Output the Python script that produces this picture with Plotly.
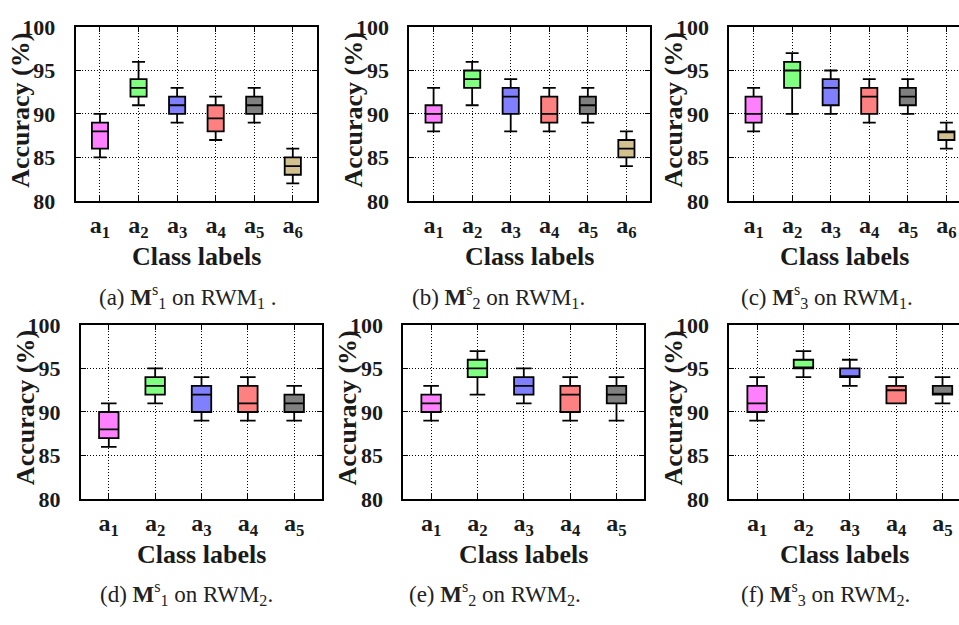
import plotly.graph_objects as go

# ---- data: five-number summaries of accuracy (%) per class label ----
labels6 = ["a<sub>1</sub>", "a<sub>2</sub>", "a<sub>3</sub>", "a<sub>4</sub>", "a<sub>5</sub>", "a<sub>6</sub>"]
labels5 = labels6[:5]

colors = ["#FF80FF", "#80FF80", "#8080FF", "#FF8080", "#808080", "#D2C08F"]

# (a) M1 on RWM1
a_lo = [85, 91, 89, 87, 89, 82]
a_q1 = [86, 92, 90, 88, 90, 83]
a_md = [88, 93, 91, 89.5, 91, 84]
a_q3 = [89, 94, 92, 91, 92, 85]
a_hi = [90, 96, 93, 92, 93, 86]

# (b) M2 on RWM1
b_lo = [88, 91, 88, 88, 89, 84]
b_q1 = [89, 93, 90, 89, 90, 85]
b_md = [90, 94, 92, 90, 91, 86]
b_q3 = [91, 95, 93, 92, 92, 87]
b_hi = [93, 96, 94, 93, 93, 88]

# (c) M3 on RWM1
c_lo = [88, 90, 90, 89, 90, 86]
c_q1 = [89, 93, 91, 90, 91, 87]
c_md = [90, 95, 93, 92, 92, 88]
c_q3 = [92, 96, 94, 93, 93, 88]
c_hi = [93, 97, 95, 94, 94, 89]

# (d) M1 on RWM2
d_lo = [86, 91, 89, 89, 89]
d_q1 = [87, 92, 90, 90, 90]
d_md = [88, 93, 92, 91, 91]
d_q3 = [90, 94, 93, 93, 92]
d_hi = [91, 95, 94, 94, 93]

# (e) M2 on RWM2
e_lo = [89, 92, 91, 89, 89]
e_q1 = [90, 94, 92, 90, 91]
e_md = [91, 95, 93, 92, 92]
e_q3 = [92, 96, 94, 93, 93]
e_hi = [93, 97, 95, 94, 94]

# (f) M3 on RWM2
f_lo = [89, 94, 93, 91, 91]
f_q1 = [90, 95, 94, 91, 92]
f_md = [91, 95, 94, 92.5, 92]
f_q3 = [93, 96, 95, 93, 93]
f_hi = [94, 97, 96, 94, 94]

captions = [
    "(a) <b>M</b><sup>s</sup><sub>1</sub> on RWM<sub>1</sub> .",
    "(b) <b>M</b><sup>s</sup><sub>2</sub> on RWM<sub>1</sub>.",
    "(c) <b>M</b><sup>s</sup><sub>3</sub> on RWM<sub>1</sub>.",
    "(d) <b>M</b><sup>s</sup><sub>1</sub> on RWM<sub>2</sub>.",
    "(e) <b>M</b><sup>s</sup><sub>2</sub> on RWM<sub>2</sub>.",
    "(f) <b>M</b><sup>s</sup><sub>3</sub> on RWM<sub>2</sub>.",
]

W, H = 959, 625
SERIF = "Liberation Serif"
INK = "#1a1a1a"

# panel geometry in pixels: (left, right, top, bottom, x-range)
panels = [
    (75.7, 316.7, 15.7, 196.7, [0.37, 6.62]),
    (409.3, 650.3, 15.7, 196.7, [0.37, 6.62]),
    (729.3, 959.0, 15.7, 196.7, [0.37, 0.37 + (959.0 - 729.3) / 38.56]),
    (81.0, 322.0, 326.0, 507.3, [0.4, 5.6]),
    (403.3, 644.3, 326.0, 507.3, [0.4, 5.6]),
    (729.3, 959.0, 326.0, 507.3, [0.4, 0.4 + (959.0 - 729.3) / 46.35]),
]
caption_pos = [(188, 296), (498, 296), (827, 296), (186, 606), (495, 606), (825, 606)]

data = [
    (a_lo, a_q1, a_md, a_q3, a_hi, labels6),
    (b_lo, b_q1, b_md, b_q3, b_hi, labels6),
    (c_lo, c_q1, c_md, c_q3, c_hi, labels6),
    (d_lo, d_q1, d_md, d_q3, d_hi, labels5),
    (e_lo, e_q1, e_md, e_q3, e_hi, labels5),
    (f_lo, f_q1, f_md, f_q3, f_hi, labels5),
]

fig = go.Figure()
layout = dict(
    width=W, height=H,
    margin=dict(l=0, r=0, t=0, b=0),
    paper_bgcolor="white", plot_bgcolor="white",
    showlegend=False, boxmode="overlay",
    annotations=[],
)

for k, ((lo, q1, md, q3, hi, labs), (L, R, T, B, xr)) in enumerate(zip(data, panels)):
    sfx = "" if k == 0 else str(k + 1)
    xa, ya = "x" + sfx, "y" + sfx
    for i in range(len(labs)):
        fig.add_trace(go.Box(
            x=[i + 1], q1=[q1[i]], median=[md[i]], q3=[q3[i]],
            lowerfence=[lo[i]], upperfence=[hi[i]],
            width=0.42, whiskerwidth=0.8,
            fillcolor=colors[i], line=dict(color="black", width=1.8),
            xaxis=xa, yaxis=ya, hoverinfo="skip",
        ))
    cut = R >= W - 0.5
    layout["xaxis" + sfx] = dict(
        domain=[L / W, R / W], anchor=ya, range=xr,
        tickvals=list(range(1, len(labs) + 1)),
        ticktext=labs,
        tickfont=dict(family=SERIF, size=24, color=INK, weight="bold"),
        ticks="inside", ticklen=5, tickcolor="black", tickwidth=1.2,
        showline=True, linecolor="black", linewidth=2, mirror="allticks",
        showgrid=True, gridcolor="black", griddash="1px,2px", gridwidth=1,
        zeroline=False, fixedrange=True, ticklabelstandoff=1,
    )
    layout["yaxis" + sfx] = dict(
        domain=[1 - B / H, 1 - T / H], anchor=xa, range=[80, 100],
        tickvals=[80, 85, 90, 95, 100],
        tickfont=dict(family=SERIF, size=22, color=INK, weight="bold"),
        ticks="inside", ticklen=5, tickcolor="black", tickwidth=1.2,
        showline=True, linecolor="black", linewidth=2,
        mirror=False if cut else "allticks",
        showgrid=True, gridcolor="black", griddash="1px,2px", gridwidth=1,
        zeroline=False, fixedrange=True, ticklabelstandoff=14,
    )
    # axis titles
    layout["annotations"].append(dict(
        text="<b>Accuracy (%)</b>", textangle=-90,
        x=(L - 56) / W, y=1 - ((T + B) / 2 - 4) / H,
        xref="paper", yref="paper", xanchor="center", yanchor="middle",
        showarrow=False, font=dict(family=SERIF, size=26, color=INK),
    ))
    layout["annotations"].append(dict(
        text="<b>Class labels</b>",
        x=(L + min(R, L + 241)) / 2 / W, y=1 - (B + 58) / H,
        xref="paper", yref="paper", xanchor="center", yanchor="middle",
        showarrow=False, font=dict(family=SERIF, size=26, color=INK),
    ))
    cx, cy = caption_pos[k]
    layout["annotations"].append(dict(
        text=captions[k], x=cx / W, y=1 - cy / H,
        xref="paper", yref="paper", xanchor="center", yanchor="middle",
        showarrow=False, font=dict(family=SERIF, size=23, color="#222"),
    ))

fig.update_layout(**layout)
fig.write_html("out.html")
